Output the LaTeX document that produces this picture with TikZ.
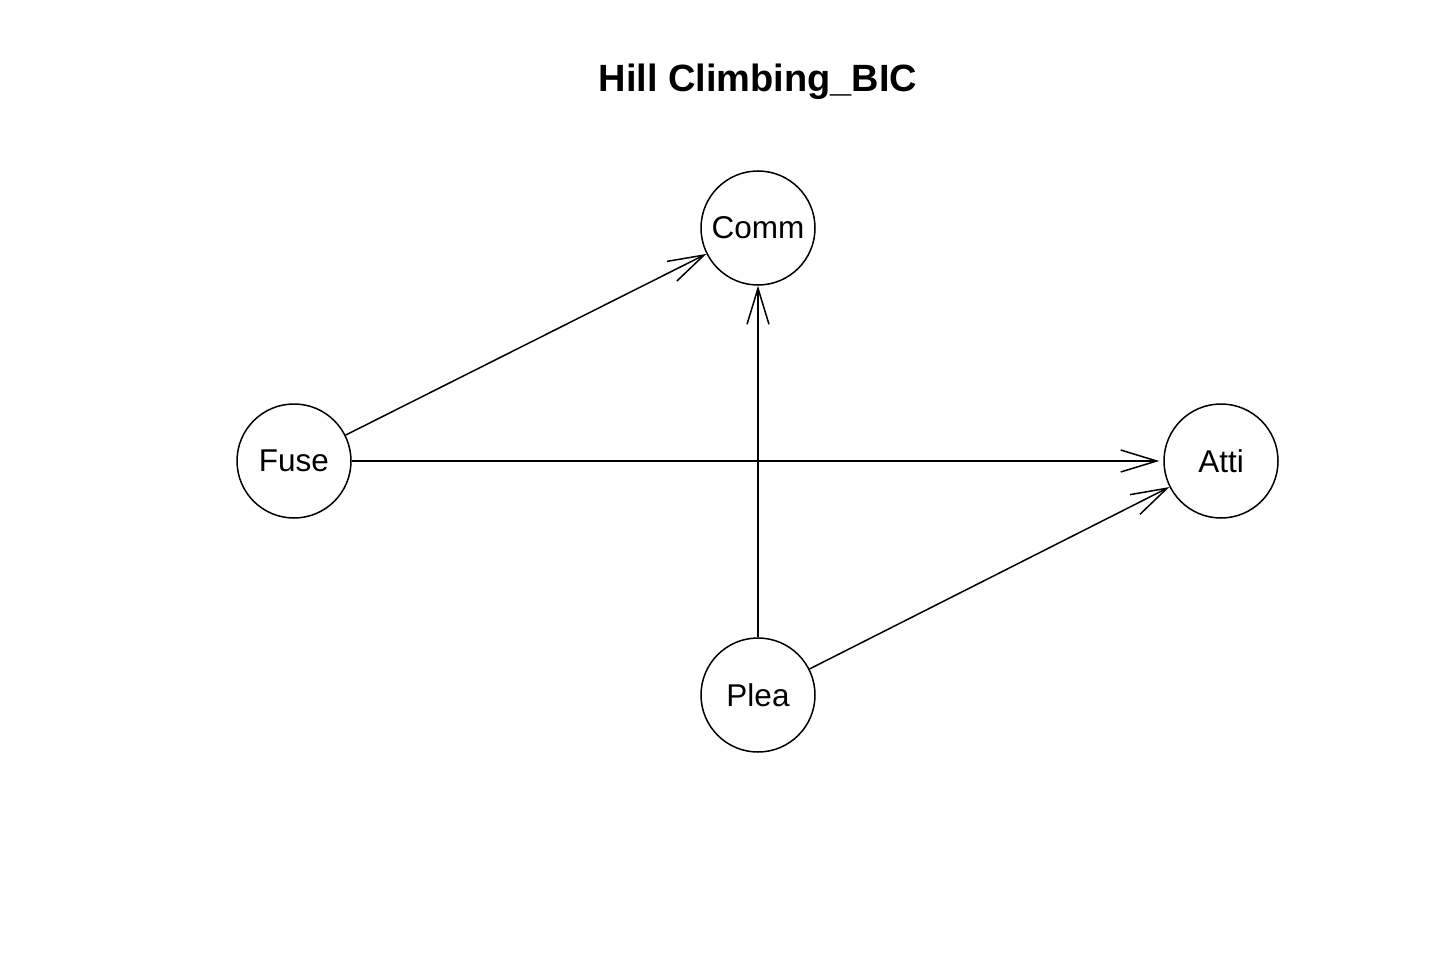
\documentclass[tikz,border=0pt]{standalone}
\usepackage{fontspec}
\setmainfont{Liberation Sans}
\usetikzlibrary{arrows.meta}
\begin{document}
\begin{tikzpicture}[x=1pt,y=-1pt,
  var/.style={draw,circle,minimum size=114pt,inner sep=0pt,line width=1.5pt,font=\fontsize{31.5}{36}\selectfont},
  edge/.style={line width=1.5pt,-{Straight Barb[length=36pt,width=22pt,line width=1.5pt]}}]
\useasboundingbox (0,0) rectangle (1440,960);
\node[font=\fontsize{38}{44}\selectfont\bfseries] (title) at (758,82) {Hill Climbing\_BIC};
\node[var] (comm) at (758,228) {Comm};
\node[var] (fuse) at (294,461) {Fuse};
\node[var] (atti) at (1221,461) {Atti};
\node[var] (plea) at (758,695) {Plea};
\draw[edge] (fuse) -- (comm);
\draw[edge] (plea) -- (comm);
\draw[edge,shorten >=4pt] (fuse) -- (atti);
\draw[edge] (plea) -- (atti);
\end{tikzpicture}
\end{document}
